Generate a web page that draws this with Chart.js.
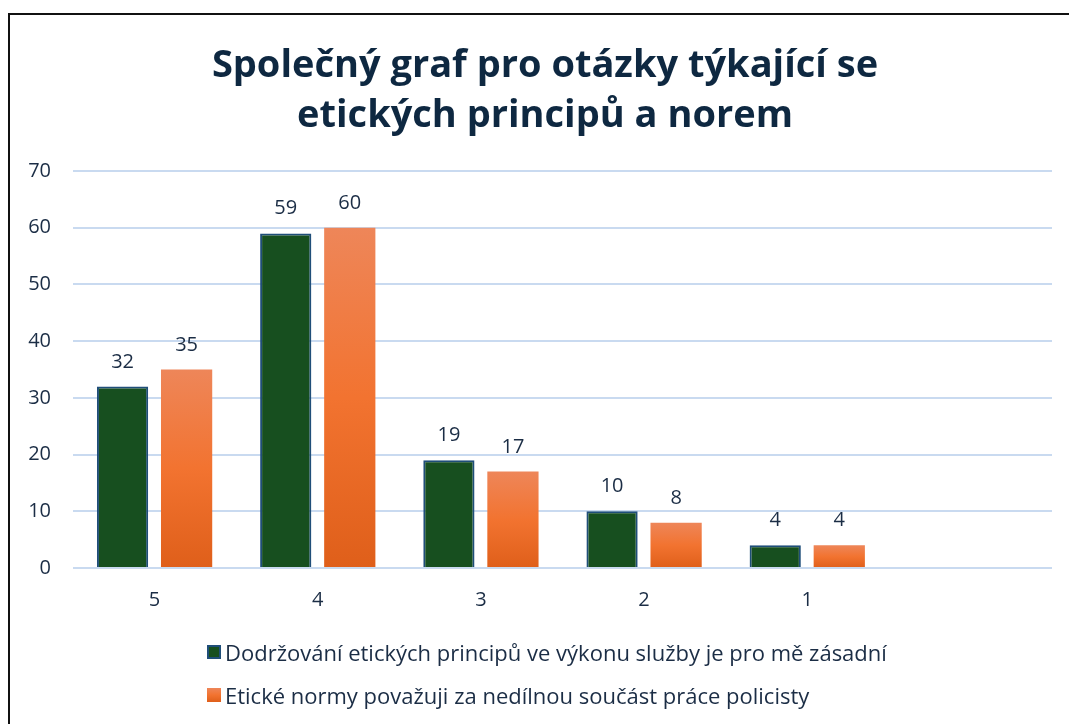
<!DOCTYPE html>
<html>
<head>
<meta charset="utf-8">
<script src="https://cdn.jsdelivr.net/npm/chart.js@4"></script>
<style>
  html, body { margin: 0; padding: 0; background: #fff; overflow: hidden; }
  #wrap { position: relative; width: 1069px; height: 724px; overflow: hidden; }
  #frame { position: absolute; left: 8px; top: 13px; width: 1100px; height: 800px; border: 2px solid #111; box-sizing: border-box; }
  #chart { position: absolute; left: 0; top: 0; }
  #title { position: absolute; left: 0; top: 37px; width: 1090px; text-align: center; font-family: "Open Sans", sans-serif; font-weight: bold; font-size: 38px; line-height: 50px; color: #0e2841; }
  #legend { position: absolute; left: 207px; top: 637px; font-family: "Open Sans", sans-serif; font-size: 22px; color: #1b2d45; }
  .item { display: flex; align-items: center; height: 30px; margin-bottom: 13px; }
  .box { width: 14px; height: 14px; margin-right: 4px; box-sizing: border-box; }
</style>
</head>
<body>
<div id="wrap">
  <div id="frame"></div>
  <canvas id="chart" width="1069" height="724"></canvas>
  <div id="title"></div>
  <div id="legend"></div>
</div>
<script>
// Data
const categories = ['5', '4', '3', '2', '1', ''];
const principlesValues = [32, 59, 19, 10, 4, null];
const normsValues = [35, 60, 17, 8, 4, null];
const seriesNames = [
    'Dodržování etických principů ve výkonu služby je pro mě zásadní',
    'Etické normy považuji za nedílnou součást práce policisty'
];
const titleLines = ['Společný graf pro otázky týkající se', 'etických principů a norem'];
const yTicks = [0, 10, 20, 30, 40, 50, 60, 70];

const textColor = '#1b2d45';
const green = '#174f1f';
const greenBorder = '#1f4e79';
const fontFamily = '"Open Sans", sans-serif';

// orange gradient per bar, top light -> bottom dark
function orangeFill(ctx) {
    const chart = ctx.chart;
    const y = chart.scales.y;
    if (!y || ctx.raw == null) return '#f27330';
    const top = y.getPixelForValue(ctx.raw);
    const base = y.getPixelForValue(0);
    if (!isFinite(top) || !isFinite(base) || top === base) return '#f27330';
    const g = chart.ctx.createLinearGradient(0, top, 0, base);
    g.addColorStop(0, '#ee8659');
    g.addColorStop(0.5, '#f27330');
    g.addColorStop(1, '#df5f1a');
    return g;
}

// value labels above bars
const valueLabels = {
    id: 'valueLabels',
    afterDatasetsDraw(chart) {
        const c = chart.ctx;
        c.save();
        c.font = '20px ' + fontFamily;
        c.fillStyle = textColor;
        c.textAlign = 'center';
        c.textBaseline = 'alphabetic';
        chart.data.datasets.forEach((ds, i) => {
            chart.getDatasetMeta(i).data.forEach((bar, j) => {
                if (ds.data[j] == null) return;
                c.fillText(ds.data[j], bar.x, bar.y - 19);
            });
        });
        c.restore();
    }
};

const chart = new Chart(document.getElementById('chart'), {
    type: 'bar',
    data: {
        labels: categories,
        datasets: [
            { label: seriesNames[0], data: principlesValues, backgroundColor: green, borderColor: greenBorder, borderWidth: 2 },
            { label: seriesNames[1], data: normsValues, backgroundColor: orangeFill, borderWidth: 0 }
        ]
    },
    options: {
        responsive: false,
        animation: false,
        layout: { padding: { top: 171, right: 17, bottom: 116, left: 0 } },
        datasets: { bar: { categoryPercentage: 0.785, barPercentage: 0.8 } },
        plugins: {
            legend: { display: false },
            tooltip: { enabled: false },
            title: { display: false }
        },
        scales: {
            x: {
                afterFit(scale) { scale.height = 40; },
                grid: { display: false },
                border: { display: false },
                ticks: { color: textColor, font: { family: fontFamily, size: 20 }, padding: 12 }
            },
            y: {
                min: 0, max: 70,
                afterFit(scale) { scale.width = 73; },
                afterBuildTicks(scale) { scale.ticks = yTicks.map(v => ({ value: v })); },
                grid: { color: '#c9daf0', lineWidth: 2, drawTicks: false },
                border: { display: false },
                ticks: { color: textColor, font: { family: fontFamily, size: 20 }, padding: 22 }
            }
        }
    },
    plugins: [valueLabels]
});

// title
document.getElementById('title').innerHTML = titleLines.map(t => '<div>' + t + '</div>').join('');

// HTML legend, left aligned rows
const legend = document.getElementById('legend');
seriesNames.forEach((name, i) => {
    const row = document.createElement('div');
    row.className = 'item';
    const box = document.createElement('span');
    box.className = 'box';
    if (i === 0) {
        box.style.background = green;
        box.style.border = '2px solid ' + greenBorder;
    } else {
        box.style.background = 'linear-gradient(#ee8659, #f27330, #df5f1a)';
    }
    const txt = document.createElement('span');
    txt.textContent = name;
    row.appendChild(box);
    row.appendChild(txt);
    legend.appendChild(row);
});
</script>
</body>
</html>
